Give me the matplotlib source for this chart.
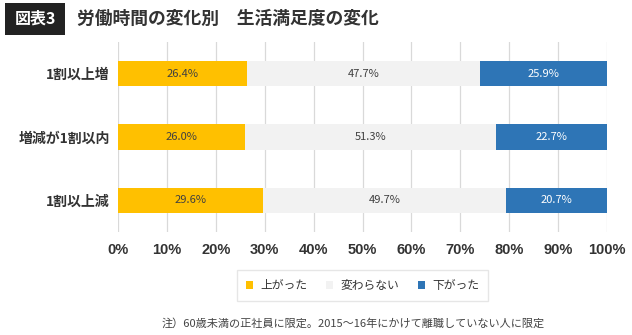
import matplotlib
matplotlib.use("Agg")
import matplotlib.pyplot as plt
import matplotlib.patches as patches
import numpy as np

plt.rcParams['font.family'] = ['Noto Sans CJK JP', 'DejaVu Sans']

# === データ ===
categories = ["1割以上増", "増減が1割以内", "1割以上減"]
series_names = ["上がった", "変わらない", "下がった"]
up = [26.4, 26.0, 29.6]
same = [47.7, 51.3, 49.7]
down = [25.9, 22.7, 20.7]
x_ticks = [0, 10, 20, 30, 40, 50, 60, 70, 80, 90, 100]

colors = ["#FFC000", "#F2F2F2", "#2E75B6"]
text_colors = ["#404040", "#404040", "white"]

fig = plt.figure(figsize=(6.32, 3.35), dpi=100)
ax = fig.add_axes([118 / 632, 1 - 232 / 335, 489 / 632, 190 / 335])

y = np.arange(len(categories))
left = np.zeros(len(categories))
handles = []
for vals, name, c, tc in zip([up, same, down], series_names, colors, text_colors):
    bars = ax.barh(y, vals, left=left, height=0.4, color=c, label=name, zorder=3)
    handles.append(bars)
    for yi, l, v in zip(y, left, vals):
        ax.text(l + v / 2, yi, f"{v:.1f}%", ha='center', va='center',
                fontsize=8, color=tc, zorder=4)
    left = left + np.array(vals)

ax.set_xlim(0, 100)
ax.set_ylim(len(categories) - 0.5, -0.5)
ax.set_yticks(y)
ax.set_yticklabels(categories, fontsize=10, fontweight='bold', color='#333333')
ax.set_xticks(x_ticks)
ax.set_xticklabels([f"{t}%" for t in x_ticks], fontsize=10.5, fontweight='bold',
                   color='#333333', family=['Liberation Sans', 'DejaVu Sans'])
ax.tick_params(axis='both', length=0)
ax.tick_params(axis='y', pad=6)
ax.tick_params(axis='x', pad=8)
for s in ax.spines.values():
    s.set_visible(False)
ax.grid(axis='x', color='#D9D9D9', linewidth=0.9, zorder=0)

leg = fig.legend(handles=handles, labels=series_names, loc='center',
                 bbox_to_anchor=(362.5 / 632, 1 - 285.5 / 335), ncol=3,
                 fontsize=8.5, frameon=True, fancybox=False, edgecolor='#E0E0E0',
                 handlelength=0.6, handleheight=0.6, columnspacing=1.6,
                 handletextpad=0.6, borderpad=0.8)
for t in leg.get_texts():
    t.set_color('#333333')

# タイトル
fig.patches.append(patches.Rectangle((5 / 632, 1 - 35 / 335), 60 / 632, 32 / 335,
                                     transform=fig.transFigure, facecolor='#222222',
                                     edgecolor='none'))
fig.text(35 / 632, 1 - 19 / 335, "図表3", color='white', fontsize=11.5,
         fontweight='bold', ha='center', va='center')
fig.text(77 / 632, 1 - 19 / 335, "労働時間の変化別　生活満足度の変化", color='#333333',
         fontsize=12.8, fontweight='bold', ha='left', va='center')

fig.text(353 / 632, 1 - 323 / 335, "注）60歳未満の正社員に限定。2015～16年にかけて離職していない人に限定",
         fontsize=8, color='#444444', ha='center', va='center')

fig.savefig("out.png", dpi=100, facecolor='white')
